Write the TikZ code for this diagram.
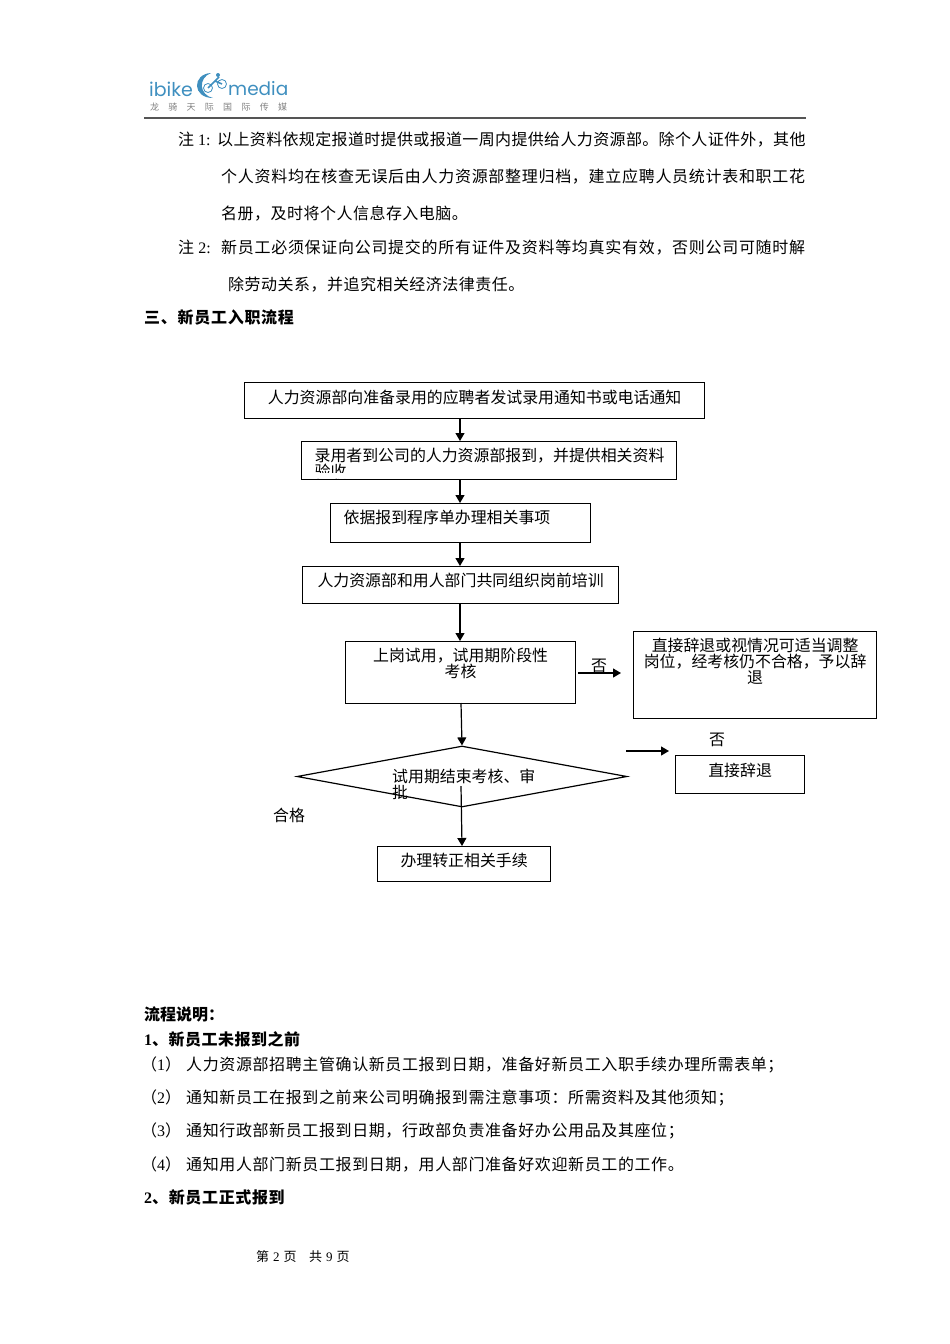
\documentclass[tikz,border=0pt]{standalone}
\usepackage{fontspec}
\usetikzlibrary{arrows.meta,shapes.geometric}
\setmainfont{Liberation Serif}
\setsansfont{Liberation Sans}
\newfontfamily\cjk{Noto Sans CJK SC}
\newfontfamily\logofont{Poppins}
\definecolor{logoblue}{HTML}{3F8FBF}
\definecolor{rulegray}{HTML}{555555}
\newcommand{\dg}[1]{{\rmfamily #1}}
\newcommand{\bdg}[1]{{\rmfamily\bfseries #1}}
\newcommand{\notehead}[2]{\makebox[#2pt][l]{注 \dg{#1:}}}
\newcommand{\lnum}[1]{\makebox[42pt][l]{\hspace*{-3pt}（\dg{#1}）}}
\tikzset{
	bodyline/.style={anchor=west, inner sep=0pt, yshift=-1pt, font={\fontsize{16}{16}\selectfont\cjk\addfontfeature{LetterSpace=#1}}},
	bodyline/.default=2.2,
	headline/.style={anchor=west, inner sep=0pt, font={\fontsize{16}{16}\selectfont\cjk\bfseries\addfontfeature{LetterSpace=#1}}},
	headline/.default=4,
	flowbox/.style={draw, line width=1.2pt, anchor=north west, inner ysep=0pt, inner xsep=0pt, align=center, font={\fontsize{15.9}{16}\selectfont\cjk}},
	flowtext/.style={inner sep=0pt, font={\fontsize{15.9}{16}\selectfont\cjk}},
	flowarrow/.style={-{Triangle[length=8pt,width=9pt]}, line width=1.2pt}
}
\begin{document}
\begin{tikzpicture}[x=1pt,y=-1pt]
	\useasboundingbox (0,0) rectangle (950,1344);
	% Logo
	\node[anchor=west, inner sep=0pt, text=logoblue, font=\logofont\fontsize{19}{20}\selectfont] (logoleft) at (149,89) {ibike};
	\node[anchor=west, inner sep=0pt, text=logoblue, font=\logofont\fontsize{18.5}{20}\selectfont] (logoright) at (228,89) {media};
	\fill[logoblue] (211,73) .. controls (192,74) and (192,98) .. (213,98) .. controls (199,95) and (198,78) .. (211,73) -- cycle;
	\draw[logoblue, line width=.8pt] (208,88) circle (4.5) (222,84) circle (4.5);
	\draw[logoblue, line width=1.6pt] (208,88) -- (215,81) -- (222,84) (215,81) -- (219,77);
	\fill[logoblue] (218,75) circle (2);
	\foreach \i/\name in {0/龙, 1/骑, 2/天, 3/际, 4/国, 5/际, 6/传, 7/媒} {
		\node[inner sep=0pt, text=gray, font={\fontsize{9}{9}\selectfont\cjk}] (logochar\i) at (154.5+\i*18.3,107) {\name};
	}
	\draw[rulegray, line width=1.6pt] (144,118) -- (806,118);

	% Notes
	\node[bodyline] (note1a) at (178,139) {\notehead{1}{39}以上资料依规定报道时提供或报道一周内提供给人力资源部。除个人证件外，其他};
	\node[bodyline=4.4] (note1b) at (221,176) {个人资料均在核查无误后由人力资源部整理归档，建立应聘人员统计表和职工花};
	\node[bodyline=3] (note1c) at (221,213) {名册，及时将个人信息存入电脑。};
	\node[bodyline=4.4] (note2a) at (178,247) {\notehead{2}{43}新员工必须保证向公司提交的所有证件及资料等均真实有效，否则公司可随时解};
	\node[bodyline=3] (note2b) at (228,284) {除劳动关系，并追究相关经济法律责任。};
	\node[headline=4.5] (section3) at (144,317) {三、新员工入职流程};

	% Flow boxes
	\node[flowbox, minimum width=460pt, text height=20.5pt, text depth=15.5pt] (hire) at (244,382) {人力资源部向准备录用的应聘者发试录用通知书或电话通知};
	\node[flowbox, align=left, text width=349pt, inner xsep=13pt, text height=19.5pt, text depth=18.5pt] (report) at (301,441) {录用者到公司的人力资源部报到，并提供相关资料\\验收};
	\node[flowbox, align=left, text width=234pt, inner xsep=13pt, text height=19.5pt, text depth=19.5pt] (procedure) at (330,503) {依据报到程序单办理相关事项};
	\node[flowbox, minimum width=316pt, text height=20pt, text depth=17pt] (training) at (302,566) {人力资源部和用人部门共同组织岗前培训};
	\node[flowbox, minimum width=230pt, text height=35.5pt, text depth=26.5pt] (trial) at (345,641) {上岗试用，试用期阶段性\\考核};
	\node[flowbox, minimum width=243pt, text height=51.5pt, text depth=35.5pt] (adjust) at (633,631) {直接辞退或视情况可适当调整\\岗位，经考核仍不合格，予以辞\\退};
	\node[draw, line width=1.2pt, diamond, aspect=5.41, inner sep=0pt, minimum width=330pt, minimum height=61pt] (review) at (462,776.5) {};
	\node[flowtext, anchor=north west, align=left] (reviewtext) at (392,769) {试用期结束考核、审\\批};
	\node[flowbox, minimum width=129pt, text height=20.5pt, text depth=17.5pt] (dismiss) at (675,755) {直接辞退};
	\node[flowbox, minimum width=173pt, text height=20pt, text depth=15pt] (regular) at (377,846) {办理转正相关手续};

	% Cut off second line of the report box
	\fill[white] (312,473) rectangle (350,478.3);

	% Labels
	\node[flowtext] (notrial) at (599,666) {否};
	\node[flowtext] (nodismiss) at (717,740) {否};
	\node[flowtext] (pass) at (289,815) {合格};

	% Connections
	\coordinate (axis) at (460,0);
	\foreach \source/\dest in {hire/report, report/procedure, procedure/training, training/trial} {
		\draw[flowarrow] (\source.south -| axis) -- (\dest.north -| axis);
	}
	\coordinate (trialout) at (461,703);
	\draw[flowarrow] (trialout) -- (review.north);
	\coordinate (reviewout) at (461,786);
	\coordinate (regularin) at (462,846);
	\draw[flowarrow] (reviewout) -- (regularin);
	\coordinate (noastart) at (578,673);
	\coordinate (noaend) at (621,673);
	\draw[flowarrow] (noastart) -- (noaend);
	\coordinate (nobstart) at (626,751);
	\coordinate (nobend) at (669,751);
	\draw[flowarrow] (nobstart) -- (nobend);

	% Explanation
	\node[headline=0] (explain) at (144,1014) {流程说明：};
	\node[headline=3] (step1) at (144,1039) {\bdg{1}、新员工未报到之前};
	\node[bodyline=3.8] (item1) at (144,1064) {\lnum{1}人力资源部招聘主管确认新员工报到日期，准备好新员工入职手续办理所需表单；};
	\node[bodyline=3.8] (item2) at (144,1097) {\lnum{2}通知新员工在报到之前来公司明确报到需注意事项：所需资料及其他须知；};
	\node[bodyline=3.8] (item3) at (144,1130) {\lnum{3}通知行政部新员工报到日期，行政部负责准备好办公用品及其座位；};
	\node[bodyline=3.8] (item4) at (144,1163) {\lnum{4}通知用人部门新员工报到日期，用人部门准备好欢迎新员工的工作。};
	\node[headline] (step2) at (144,1197) {\bdg{2}、新员工正式报到};

	% Footer
	\node[anchor=west, inner sep=0pt, yshift=-1pt, font={\fontsize{13}{14}\selectfont\cjk}] (footer) at (256,1256) {第\hspace{4pt}\dg{2}\hspace{4pt}页\hspace{12.5pt}共\hspace{4pt}\dg{9}\hspace{4pt}页};
\end{tikzpicture}
\end{document}
